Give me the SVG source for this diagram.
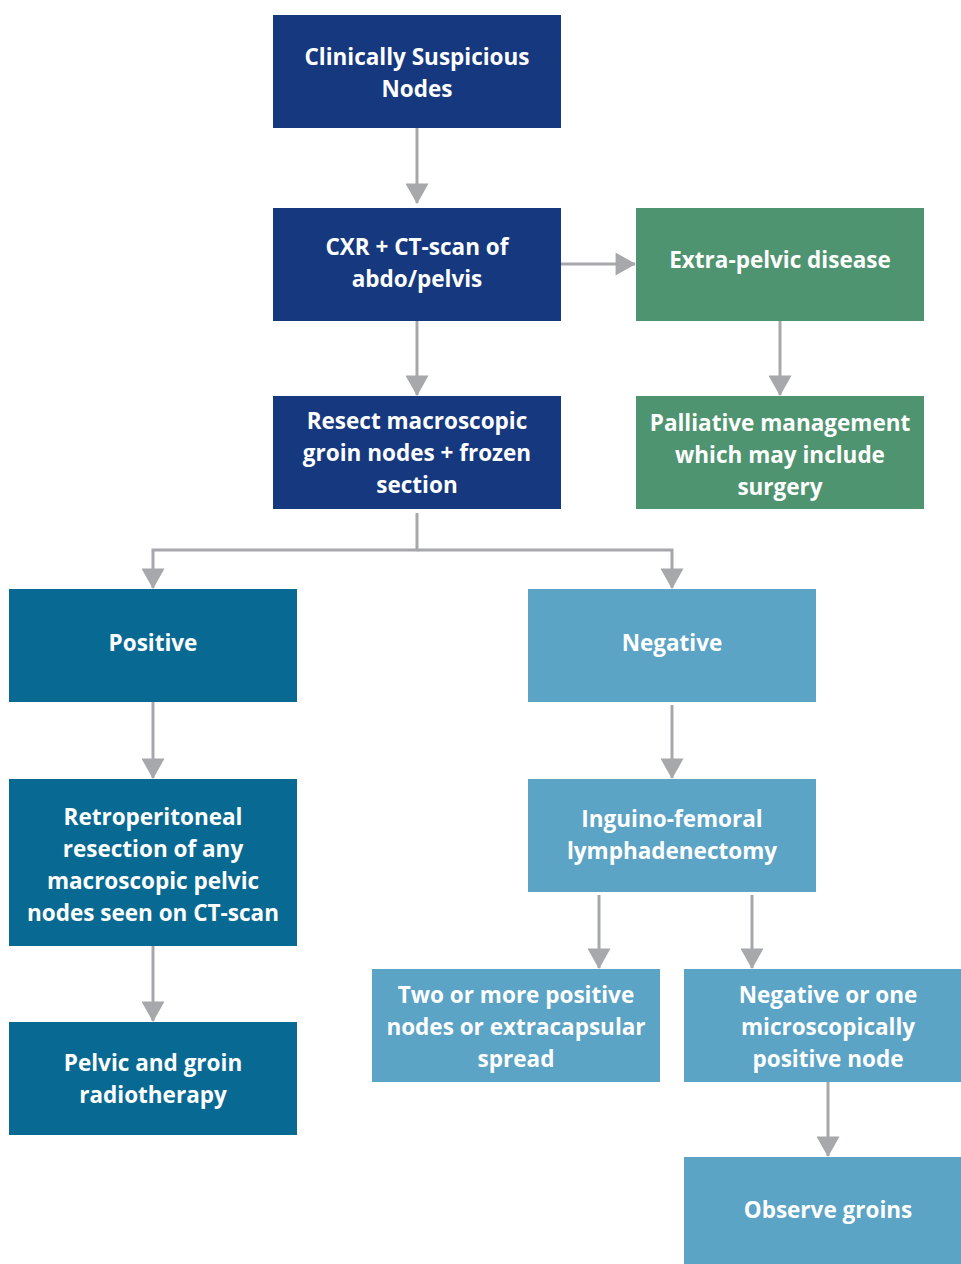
<svg xmlns="http://www.w3.org/2000/svg" width="961" height="1264" viewBox="0 0 961 1264">
<style>
.t{font-family:"Open Sans","Liberation Sans",sans-serif;font-weight:700;font-size:22.5px;fill:#fff;text-anchor:middle}
.c{stroke:#a7a8ab;stroke-width:3;fill:none}
.dk{fill:#15387f}.gr{fill:#4f9470}.tl{fill:#086a93}.lt{fill:#5ba4c6}
</style>
<defs>
<marker id="ah" markerWidth="26" markerHeight="23" refX="22" refY="13" viewBox="0 0 23 26" orient="auto" markerUnits="userSpaceOnUse">
<path d="M0,0 L23,13 L0,26 Z" fill="#a7a8ab"/>
</marker>
</defs>
<rect width="961" height="1264" fill="#fff"/>
<g id="connectors">
<path class="c" d="M417,128 V203" marker-end="url(#ah)"/>
<path class="c" d="M561,264 H635" marker-end="url(#ah)"/>
<path class="c" d="M417,321 V395" marker-end="url(#ah)"/>
<path class="c" d="M780,321 V395" marker-end="url(#ah)"/>
<path class="c" d="M417,513 V550 H153 V588" marker-end="url(#ah)"/>
<path class="c" d="M417,550 H672 V588" marker-end="url(#ah)"/>
<path class="c" d="M153,702 V778" marker-end="url(#ah)"/>
<path class="c" d="M672,705 V778" marker-end="url(#ah)"/>
<path class="c" d="M153,946 V1021" marker-end="url(#ah)"/>
<path class="c" d="M599,895 V968" marker-end="url(#ah)"/>
<path class="c" d="M752,895 V968" marker-end="url(#ah)"/>
<path class="c" d="M828,1082 V1156" marker-end="url(#ah)"/>
</g>
<g id="n1"><rect class="dk" x="273" y="15" width="288" height="113"/>
<text class="t" x="417" y="65">Clinically Suspicious</text><text class="t" x="417" y="97">Nodes</text></g>
<g id="n2"><rect class="dk" x="273" y="208" width="288" height="113"/>
<text class="t" x="417" y="255">CXR + CT-scan of</text><text class="t" x="417" y="287">abdo/pelvis</text></g>
<g id="n3"><rect class="dk" x="273" y="396" width="288" height="113"/>
<text class="t" x="417" y="429">Resect macroscopic</text><text class="t" x="417" y="461">groin nodes + frozen</text><text class="t" x="417" y="493">section</text></g>
<g id="n4"><rect class="gr" x="636" y="208" width="288" height="113"/>
<text class="t" x="780" y="268">Extra-pelvic disease</text></g>
<g id="n5"><rect class="gr" x="636" y="396" width="288" height="113"/>
<text class="t" x="780" y="431">Palliative management</text><text class="t" x="780" y="463">which may include</text><text class="t" x="780" y="495">surgery</text></g>
<g id="n6"><rect class="tl" x="9" y="589" width="288" height="113"/>
<text class="t" x="153" y="651">Positive</text></g>
<g id="n7"><rect class="lt" x="528" y="589" width="288" height="113"/>
<text class="t" x="672" y="651">Negative</text></g>
<g id="n8"><rect class="tl" x="9" y="779" width="288" height="167"/>
<text class="t" x="153" y="825">Retroperitoneal</text><text class="t" x="153" y="857">resection of any</text><text class="t" x="153" y="889">macroscopic pelvic</text><text class="t" x="153" y="921">nodes seen on CT-scan</text></g>
<g id="n9"><rect class="tl" x="9" y="1022" width="288" height="113"/>
<text class="t" x="153" y="1071">Pelvic and groin</text><text class="t" x="153" y="1103">radiotherapy</text></g>
<g id="n10"><rect class="lt" x="528" y="779" width="288" height="113"/>
<text class="t" x="672" y="827">Inguino-femoral</text><text class="t" x="672" y="859">lymphadenectomy</text></g>
<g id="n11"><rect class="lt" x="372" y="969" width="288" height="113"/>
<text class="t" x="516" y="1003">Two or more positive</text><text class="t" x="516" y="1035">nodes or extracapsular</text><text class="t" x="516" y="1067">spread</text></g>
<g id="n12"><rect class="lt" x="684" y="969" width="277" height="113"/>
<text class="t" x="828" y="1003">Negative or one</text><text class="t" x="828" y="1035">microscopically</text><text class="t" x="828" y="1067">positive node</text></g>
<g id="n13"><rect class="lt" x="684" y="1157" width="277" height="107"/>
<text class="t" x="828" y="1218">Observe groins</text></g>
</svg>
